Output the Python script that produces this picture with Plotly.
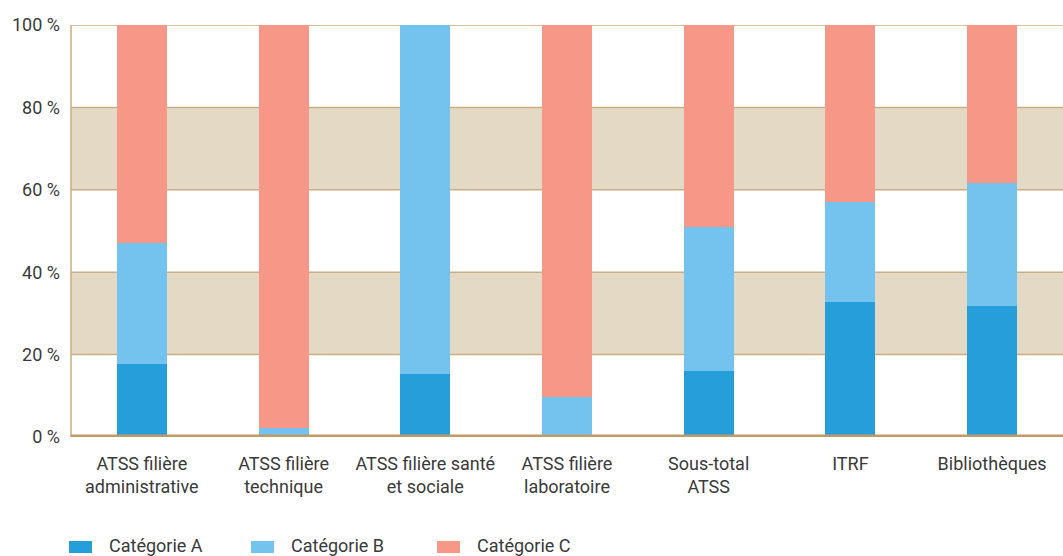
import plotly.graph_objects as go

# ---------------------------------------------------------------------------
# data (share of each category, %)
# ---------------------------------------------------------------------------
categories = [
    "ATSS filière<br>administrative",
    "ATSS filière<br>technique",
    "ATSS filière santé<br>et sociale",
    "ATSS filière<br>laboratoire",
    "Sous-total<br>ATSS",
    "ITRF",
    "Bibliothèques",
]
cat_a = [17.7, 0.0, 15.3, 0.0, 16.0, 32.8, 31.8]
cat_b = [29.4, 2.3, 84.7, 9.7, 35.0, 24.3, 29.9]
cat_c = [52.9, 97.7, 0.0, 90.3, 49.0, 42.9, 38.3]
series_names = ["Catégorie A", "Catégorie B", "Catégorie C"]
y_ticks = [0, 20, 40, 60, 80, 100]
y_tick_labels = [f"{v} %" for v in y_ticks]

COLORS = {
    "a": "#259ed9",
    "b": "#73c3ee",
    "c": "#f79787",
    "band": "#e4d9c5",
    "grid": "#c9ae85",
    "axis": "#c09a67",
    "text": "#3a3a3a",
}
FONT = "Roboto, Arial, sans-serif"

W, H = 1063, 556
M = dict(l=71, r=0, t=25, b=119)
PLOT_W = W - M["l"] - M["r"]
PLOT_H = H - M["t"] - M["b"]


def px_x(x):
    return (x - M["l"]) / PLOT_W


def px_y(y):
    return (H - M["b"] - y) / PLOT_H


series_colors = [COLORS["a"], COLORS["b"], COLORS["c"]]

fig = go.Figure()
for name, vals, col in zip(series_names, [cat_a, cat_b, cat_c], series_colors):
    fig.add_trace(go.Bar(
        x=categories, y=vals, name=name, showlegend=False,
        marker=dict(color=col, line=dict(width=0)),
    ))

# beige bands behind the bars
for lo, hi in [(20, 40), (60, 80)]:
    fig.add_shape(type="rect", xref="paper", yref="y", x0=0, x1=1, y0=lo, y1=hi,
                  fillcolor=COLORS["band"], line=dict(width=0), layer="below")
# top frame and gridlines
for v in [20, 40, 60, 80, 100]:
    fig.add_shape(type="line", xref="paper", yref="y", x0=0, x1=1, y0=v, y1=v,
                  line=dict(color=COLORS["grid"], width=1.5), layer="below")
# left frame
fig.add_shape(type="line", xref="paper", yref="paper", x0=0, x1=0, y0=0, y1=1,
              line=dict(color=COLORS["grid"], width=1.5), layer="below")
# thick base line
fig.add_shape(type="line", xref="paper", yref="y", x0=0, x1=1, y0=0, y1=0,
              line=dict(color=COLORS["axis"], width=5))

# legend drawn by hand: wide flat swatches like the original
legend_left = [69, 251, 437]
for name, col, lx in zip(series_names, series_colors, legend_left):
    fig.add_shape(type="rect", xref="paper", yref="paper",
                  x0=px_x(lx), x1=px_x(lx + 23), y0=px_y(553), y1=px_y(541),
                  fillcolor=col, line=dict(width=0))
    fig.add_annotation(text=name, xref="paper", yref="paper",
                       x=px_x(lx + 38), y=px_y(545), xanchor="left", yanchor="middle",
                       showarrow=False, font=dict(size=18, color=COLORS["text"]))

fig.update_layout(
    width=W, height=H,
    margin=M,
    barmode="stack",
    bargap=0.647,
    plot_bgcolor="white", paper_bgcolor="white",
    font=dict(family=FONT, size=18, color=COLORS["text"]),
    xaxis=dict(showgrid=False, showline=False, zeroline=False,
               tickfont=dict(size=18), ticklabelstandoff=14),
    yaxis=dict(range=[0, 100], tickvals=y_ticks, ticktext=y_tick_labels,
               showgrid=False, showline=False, zeroline=False,
               tickfont=dict(size=18), ticklabelstandoff=10),
    showlegend=False,
)

# drop the browser's default 8px body margin so the figure fills the window
fig.write_html("out.html", config={"displayModeBar": False},
               post_script="document.body.style.margin='0';document.body.style.overflow='hidden';")
